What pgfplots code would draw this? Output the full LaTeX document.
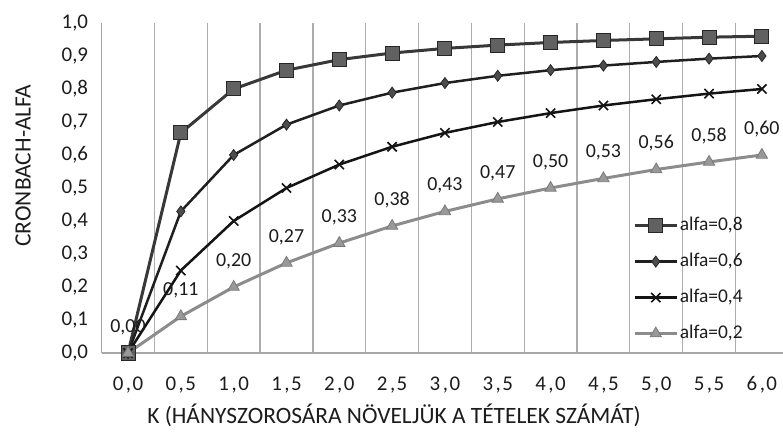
\documentclass[border=0pt]{standalone}
\usepackage{pgfplots}
\pgfplotsset{compat=1.18}
\usepackage{pgfplotstable}
\usepackage{fontspec}
\setmainfont{Carlito}
\pgfplotstableread{
x a8 a6 a4 a2 lab
0 0 0 0 0 0,00
1 0.667 0.429 0.250 0.111 0,11
2 0.800 0.600 0.400 0.200 0,20
3 0.857 0.692 0.500 0.273 0,27
4 0.889 0.750 0.571 0.333 0,33
5 0.909 0.789 0.625 0.385 0,38
6 0.923 0.818 0.667 0.429 0,43
7 0.933 0.840 0.700 0.467 0,47
8 0.941 0.857 0.727 0.500 0,50
9 0.947 0.871 0.750 0.529 0,53
10 0.952 0.882 0.769 0.556 0,56
11 0.957 0.892 0.786 0.579 0,58
12 0.960 0.900 0.800 0.600 0,60
}\datatable
\newcommand{\xl}[2]{#1\kern2.5bp,\kern1.5bp#2}
\definecolor{txt}{HTML}{1C1C1C}
\begin{document}
\begin{tikzpicture}
\useasboundingbox (0,0) rectangle (783bp,432bp);
\begin{axis}[
  at={(101.6bp,79bp)}, anchor=south west,
  scale only axis, width=681.4bp, height=330bp,
  xmin=-0.5, xmax=12.4, ymin=0, ymax=1,
  axis x line*=bottom, axis y line*=left,
  axis line style={draw=black!35, line width=1.3bp, -},
  major tick length=0pt, minor tick length=0pt,
  xtick={0,...,12},
  xticklabels={\xl00,\xl05,\xl10,\xl15,\xl20,\xl25,\xl30,\xl35,\xl40,\xl45,\xl50,\xl55,\xl60},
  minor xtick={0.5,1.5,...,11.5},
  xminorgrids, minor grid style={draw=black!32, line width=1.3bp},
  ytick={0,0.1,...,1.01},
  yticklabels={{0,0},{0,1},{0,2},{0,3},{0,4},{0,5},{0,6},{0,7},{0,8},{0,9},{1,0}},
  /pgf/number format/assume math mode=true,
  ticklabel style={font=\fontsize{21}{25}\selectfont, text=txt},
  xticklabel style={anchor=base, yshift=-37bp},
  yticklabel style={anchor=east, xshift=-10bp},
  clip=false,
  legend style={at={(0.780,0.417)}, anchor=north west, draw=none, fill=none,
    inner sep=0pt, font=\fontsize{19.5}{21}\selectfont, text=txt,
    nodes={inner sep=1.5bp, text height=13bp, text depth=4bp}, row sep=16bp},
  legend cell align=left,
  legend image code/.code={\draw[mark repeat=2,mark phase=2,#1] plot coordinates {(0bp,0bp) (21bp,0bp) (42bp,0bp)};},
]
% labels of the 0.2 series, drawn first so the other lines pass over them
\addplot[draw=none, forget plot, nodes near coords, point meta=explicit symbolic,
  every node near coord/.append style={anchor=center, yshift=26bp, font=\fontsize{20}{24}\selectfont, text=txt}]
  table[x=x, y=a2, meta=lab] {\datatable};
\addplot[color=black!78, line width=3bp, mark=square*, mark size=7bp,
  mark options={solid, fill=black!62, draw=black!85, line width=1bp}]
  table[x=x, y=a8] {\datatable};
\addlegendentry{alfa=0,8}
\addplot[color=black!88, line width=2.5bp, mark=diamond*, mark size=5.5bp,
  mark options={solid, fill=black!70, draw=black!85, line width=0.8bp}]
  table[x=x, y=a6] {\datatable};
\addlegendentry{alfa=0,6}
\addplot[color=black!92, line width=2.5bp, mark=x, mark size=6.5bp,
  mark options={solid, line width=1.6bp}]
  table[x=x, y=a4] {\datatable};
\addlegendentry{alfa=0,4}
\addplot[color=black!45, line width=3bp, mark=triangle*, mark size=6.5bp,
  mark options={solid, fill=black!40, draw=black!52, line width=0.8bp}]
  table[x=x, y=a2] {\datatable};
\addlegendentry{alfa=0,2}
\end{axis}
\node[rotate=90, font=\fontsize{23.5}{28}\selectfont, text=txt] at (23bp,266.5bp) {CRONBACH-ALFA};
\node[font=\fontsize{23.5}{28}\selectfont, text=txt] at (394bp,17bp) {K (HÁNYSZOROSÁRA NÖVELJÜK A TÉTELEK SZÁMÁT)};
\end{tikzpicture}
\end{document}
